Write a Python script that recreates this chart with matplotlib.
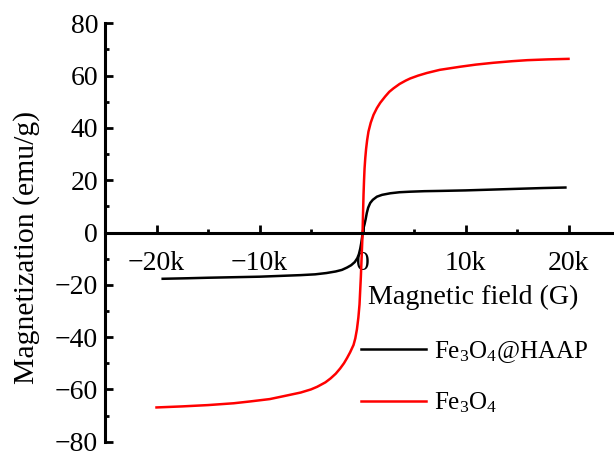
import matplotlib
matplotlib.use("Agg")
import matplotlib.pyplot as plt
from matplotlib.ticker import FixedLocator, FuncFormatter

plt.rcParams['font.family'] = ['Liberation Serif', 'DejaVu Serif']
plt.rcParams['mathtext.fontset'] = 'custom'
plt.rcParams['mathtext.rm'] = 'Liberation Serif'
plt.rcParams['mathtext.it'] = 'Liberation Serif:italic'

# Hysteresis data: applied field (G) and magnetization (emu/g)
field_haap = [-19400, -17000, -15000, -12500, -10000, -8000, -6000, -4600, -3500,
              -2600, -2000, -1500, -1100, -750, -500, -350, -220, -120, -40, 40,
              120, 200, 300, 420, 550, 750, 1000, 1400, 1900, 2700, 3600, 4600,
              6000, 7500, 10000, 12500, 15000, 17500, 19700]
mag_haap = [-17.7, -17.5, -17.3, -17.1, -16.9, -16.6, -16.3, -16.0, -15.5,
            -14.9, -14.3, -13.4, -12.5, -11.3, -9.8, -8.3, -6.2, -4.0, -1.8, 0.5,
            2.0, 3.2, 5.0, 7.5, 9.5, 11.3, 12.5, 13.7, 14.4, 15.0, 15.4, 15.6,
            15.8, 15.9, 16.1, 16.4, 16.7, 17.0, 17.2]

field_fe3o4 = [-20000, -17500, -15000, -12500, -10900, -9000, -7670, -6000, -5000,
               -4400, -3600, -3100, -2600, -2170, -1800, -1500, -1200, -870, -700,
               -540, -400, -290, -160, -80, 0, 50, 100, 150, 200, 270, 350, 450,
               580, 800, 1070, 1400, 1720, 2200, 2600, 3000, 3600, 4200, 4630,
               5400, 6250, 7500, 9500, 11000, 12700, 14500, 16000, 18000, 20000]
mag_fe3o4 = [-66.9, -66.5, -66.0, -65.3, -64.6, -63.7, -62.6, -61.2, -60.0,
             -59.0, -57.3, -55.8, -54.0, -52.0, -50.0, -48.0, -45.8, -43.0, -40.5,
             -37.0, -32.5, -27.5, -17.0, -9.0, -1.0, 7.0, 14.5, 20.0, 24.5, 28.5,
             32.0, 35.3, 38.6, 42.0, 45.0, 47.6, 49.6, 52.0, 53.8, 55.1, 56.8,
             58.1, 58.9, 60.0, 61.0, 62.2, 63.4, 64.2, 64.9, 65.5, 65.9, 66.2, 66.4]

labels = [r'Fe$_3$O$_4$@HAAP', r'Fe$_3$O$_4$']
colors = ['black', '#ff0000']

x_major = [-20000, -10000, 0, 10000, 20000]
x_minor = [-15000, -5000, 5000, 15000]
y_major = [-80, -60, -40, -20, 0, 20, 40, 60, 80]
y_minor = [-70, -50, -30, -10, 10, 30, 50, 70]

W, H = 614, 453
fig = plt.figure(figsize=(W / 100, H / 100), dpi=100)
ax = fig.add_axes([105 / W, 11.3 / H, 515 / W, 418.4 / H])

ax.plot(field_haap, mag_haap, color=colors[0], lw=1.8, label=labels[0],
        solid_joinstyle='round')
ax.plot(field_fe3o4, mag_fe3o4, color=colors[1], lw=1.8, label=labels[1],
        solid_joinstyle='round')

ax.set_xlim(-25000, 25000)
ax.set_ylim(-80, 80)

for side in ('top', 'right'):
    ax.spines[side].set_visible(False)
ax.spines['bottom'].set_position(('data', 0))
for side in ('left', 'bottom'):
    ax.spines[side].set_linewidth(2.2)
    ax.spines[side].set_capstyle('projecting')

ax.xaxis.set_major_locator(FixedLocator(x_major))
ax.xaxis.set_minor_locator(FixedLocator(x_minor))
ax.yaxis.set_major_locator(FixedLocator(y_major))
ax.yaxis.set_minor_locator(FixedLocator(y_minor))


def kfmt(v, pos):
    if v == 0:
        return '0'
    return f"{int(round(v / 1000))}k".replace('-', '\u2212')


ax.xaxis.set_major_formatter(FuncFormatter(kfmt))
ax.yaxis.set_major_formatter(FuncFormatter(lambda v, p: f"{int(v)}".replace('-', '\u2212')))

ax.tick_params(axis='both', which='major', direction='in', length=5.5, width=2,
               labelsize=20)
ax.tick_params(axis='both', which='minor', direction='in', length=2.8, width=2)
ax.tick_params(axis='x', which='major', pad=13)
ax.tick_params(axis='y', which='major', pad=5)

fig.text(26.5 / W, 1 - 247 / H, 'Magnetization (emu/g)', rotation=90,
         ha='center', va='center', fontsize=21.4)
fig.text(368 / W, 1 - 297 / H, 'Magnetic field (G)', ha='left', va='center',
         fontsize=20.2)

ax.legend(loc='upper left', bbox_to_anchor=(356 / W, 1 - 334 / H),
          bbox_transform=fig.transFigure, frameon=False, fontsize=18,
          handlelength=2.6, handletextpad=0.3, labelspacing=1.02,
          borderpad=0.2, borderaxespad=0)

fig.savefig('out.png', dpi=100)
